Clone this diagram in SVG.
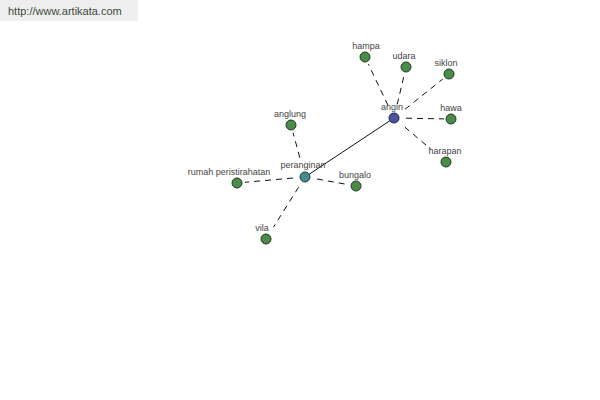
<svg xmlns="http://www.w3.org/2000/svg" width="600" height="400" viewBox="0 0 600 400">
<style>
.lbl{font-family:"Liberation Sans",Arial,sans-serif;font-size:9px;fill:#444;text-anchor:middle}
.leaf{fill:#4b8a48;stroke:#1f3d1f;stroke-width:1}
.dash{stroke:#111;stroke-width:1;stroke-dasharray:6 5;fill:none}
</style>
<rect width="600" height="400" fill="#fff"/>
<g id="watermark">
<rect x="0" y="0" width="138" height="21" fill="#eeeeee"/>
<text x="8" y="15" font-family="Liberation Sans,Arial,sans-serif" font-size="11" fill="#3a4a3a">http://www.artikata.com</text>
</g>
<g id="connectors">
<line x1="305" y1="177" x2="394" y2="118" stroke="#111" stroke-width="1"/>
<line class="dash" x1="388" y1="105.4" x2="368.4" y2="64.2"/>
<line class="dash" x1="397.2" y1="104.4" x2="404.2" y2="74.8"/>
<line class="dash" x1="405" y1="109.3" x2="442.8" y2="79"/>
<line class="dash" x1="406" y1="118.2" x2="444" y2="118.9"/>
<line class="dash" x1="404.7" y1="127" x2="430.7" y2="149"/>
<line class="dash" x1="299.8" y1="157.7" x2="293.1" y2="132.7"/>
<line class="dash" x1="293" y1="178" x2="245" y2="182.3"/>
<line class="dash" x1="317" y1="179" x2="349" y2="184.8"/>
<line class="dash" x1="298.6" y1="187.2" x2="273.5" y2="227.1"/>
</g>
<g id="angin"><circle cx="394" cy="118" r="5" fill="#4a559a" stroke="#1e2350"/><text class="lbl" x="392" y="110">angin</text></g>
<g id="peranginan"><circle cx="305" cy="177" r="5" fill="#4a8a8c" stroke="#1e3d3d"/><text class="lbl" x="303" y="168">peranginan</text></g>
<g id="hampa"><circle class="leaf" cx="365" cy="57" r="5"/><text class="lbl" x="366" y="49">hampa</text></g>
<g id="udara"><circle class="leaf" cx="406" cy="67" r="5"/><text class="lbl" x="404" y="59">udara</text></g>
<g id="siklon"><circle class="leaf" cx="449" cy="74" r="5"/><text class="lbl" x="446" y="66">siklon</text></g>
<g id="hawa"><circle class="leaf" cx="451" cy="119" r="5"/><text class="lbl" x="451" y="111">hawa</text></g>
<g id="harapan"><circle class="leaf" cx="446" cy="162" r="5"/><text class="lbl" x="445" y="154">harapan</text></g>
<g id="anglung"><circle class="leaf" cx="291" cy="125" r="5"/><text class="lbl" x="290" y="117">anglung</text></g>
<g id="rumah-peristirahatan"><circle class="leaf" cx="237" cy="183" r="5"/><text class="lbl" x="229" y="175">rumah peristirahatan</text></g>
<g id="bungalo"><circle class="leaf" cx="356" cy="186" r="5"/><text class="lbl" x="355" y="178">bungalo</text></g>
<g id="vila"><circle class="leaf" cx="266" cy="239" r="5"/><text class="lbl" x="262" y="231">vila</text></g>
</svg>
